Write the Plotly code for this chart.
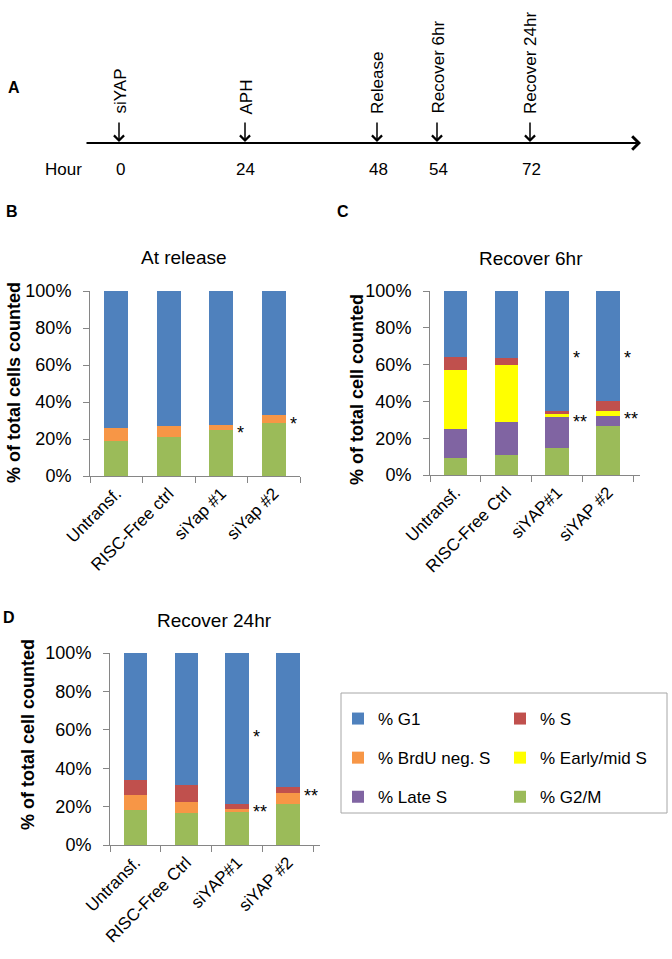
import plotly.graph_objects as go

W, H = 672, 959

# ---------------- data ----------------
cats_B = ["Untransf.", "RISC-Free ctrl", "siYap #1", "siYap #2"]
cats_C = ["Untransf.", "RISC-Free Ctrl", "siYAP#1", "siYAP #2"]
cats_D = ["Untransf.", "RISC-Free Ctrl", "siYAP#1", "siYAP #2"]

series_names = ["% G2/M", "% Late S", "% Early/mid S", "% BrdU neg. S", "% S", "% G1"]

B_g2m = [19, 21, 25, 28.5]
B_late = [0, 0, 0, 0]
B_early = [0, 0, 0, 0]
B_brdu = [7, 6, 2.5, 4.5]
B_s = [0, 0, 0, 0]
B_g1 = [74, 73, 72.5, 67]

C_g2m = [9.5, 11, 14.5, 26.5]
C_late = [15.5, 18, 17, 5.5]
C_early = [32, 31, 1.5, 3]
C_brdu = [0, 0, 0, 0]
C_s = [7, 3.5, 2, 5]
C_g1 = [36, 36.5, 65, 60]

D_g2m = [18, 16.5, 17, 21.5]
D_late = [0, 0, 0, 0]
D_early = [0, 0, 0, 0]
D_brdu = [8, 6, 2, 5.5]
D_s = [8, 9, 2.5, 3]
D_g1 = [66, 68.5, 78.5, 70]

timeline_events = ["siYAP", "APH", "Release", "Recover 6hr", "Recover 24hr"]
timeline_hours = ["0", "24", "48", "54", "72"]

# significance marks: (category index, y value, text)
sig_B = [(2, 26, "*"), (3, 31, "*")]
sig_C = [(2, 66.5, "*"), (3, 66.5, "*"), (2, 31.5, "**"), (3, 33, "**")]
sig_D = [(2, 59, "*"), (2, 20, "**"), (3, 28, "**")]

# ---------------- style ----------------
FONT = "Liberation Sans, Arial, sans-serif"
colors = {"% G2/M": "#9BBB59", "% Late S": "#8064A2", "% Early/mid S": "#FFFF00",
          "% BrdU neg. S": "#F79646", "% S": "#C0504D", "% G1": "#4F81BD"}
legend_of = {"% G1": "legend", "% BrdU neg. S": "legend", "% Late S": "legend",
             "% S": "legend2", "% Early/mid S": "legend2", "% G2/M": "legend2"}
legend_rank = {"% G1": 1, "% BrdU neg. S": 2, "% Late S": 3,
               "% S": 1, "% Early/mid S": 2, "% G2/M": 3}
AX = "#868686"


def px_x(v):
    return v / W


def px_y(v):
    return 1 - v / H


fig = go.Figure()

panels = [
    ("x", "y", cats_B, [B_g2m, B_late, B_early, B_brdu, B_s, B_g1], False),
    ("x2", "y2", cats_C, [C_g2m, C_late, C_early, C_brdu, C_s, C_g1], False),
    ("x3", "y3", cats_D, [D_g2m, D_late, D_early, D_brdu, D_s, D_g1], True),
]
for xa, ya, cats, data, show in panels:
    for name, vals in zip(series_names, data):
        fig.add_trace(go.Bar(
            x=cats, y=vals, name=name, xaxis=xa, yaxis=ya,
            marker=dict(color=colors[name], line=dict(width=0)),
            showlegend=show, legendgroup=name, legend=legend_of[name],
            legendrank=legend_rank[name],
        ))

xaxis_common = dict(type="category", showline=True, linecolor=AX, linewidth=1,
                    ticks="outside", tickson="boundaries", ticklen=6, tickcolor=AX,
                    tickangle=-45, tickfont=dict(family=FONT, size=17, color="black"),
                    showgrid=False, fixedrange=True, automargin=False)
yaxis_common = dict(range=[0, 100], dtick=20, ticksuffix="%", showline=True,
                    linecolor=AX, linewidth=1, ticks="outside", ticklen=6, tickcolor=AX,
                    ticklabelstandoff=8,
                    tickfont=dict(family=FONT, size=18, color="black"),
                    showgrid=False, zeroline=False, fixedrange=True, automargin=False)

fig.update_layout(
    width=W, height=H, margin=dict(l=0, r=0, t=0, b=0, autoexpand=False),
    paper_bgcolor="white", plot_bgcolor="white",
    barmode="stack", bargap=0.54,
    font=dict(family=FONT, color="black"),
    xaxis=dict(domain=[px_x(90), px_x(300)], anchor="y", **xaxis_common),
    yaxis=dict(domain=[px_y(476), px_y(291)], anchor="x", **yaxis_common),
    xaxis2=dict(domain=[px_x(430), px_x(640)], anchor="y2", **xaxis_common),
    yaxis2=dict(domain=[px_y(475), px_y(291)], anchor="x2", **yaxis_common),
    xaxis3=dict(domain=[px_x(110), px_x(320)], anchor="y3", **xaxis_common),
    yaxis3=dict(domain=[px_y(845), px_y(653)], anchor="x3", **yaxis_common),
    legend=dict(x=px_x(338), y=px_y(701), xanchor="left", yanchor="top",
                traceorder="grouped", tracegroupgap=14,
                font=dict(family=FONT, size=17), bgcolor="rgba(0,0,0,0)"),
    legend2=dict(x=px_x(500), y=px_y(701), xanchor="left", yanchor="top",
                 traceorder="grouped", tracegroupgap=14,
                 font=dict(family=FONT, size=17), bgcolor="rgba(0,0,0,0)"),
)

# legend frame
fig.add_shape(type="rect", xref="paper", yref="paper",
              x0=px_x(341), x1=px_x(667), y0=px_y(813), y1=px_y(693),
              line=dict(color="#A6A6A6", width=1))


def paper_text(txt, cx, cy, size, **kw):
    d = dict(text=txt, x=px_x(cx), y=px_y(cy), xref="paper", yref="paper",
             xanchor="center", yanchor="middle", showarrow=False,
             font=dict(family=FONT, size=size))
    d.update(kw)
    return d


ann = []
# panel titles
for txt, cx, cy in [("At release", 184, 257), ("Recover 6hr", 531, 258), ("Recover 24hr", 215, 620)]:
    ann.append(paper_text(txt, cx, cy, 19))
# y-axis titles
for txt, cx, cy in [("% of total cells counted", 14, 383),
                    ("% of total cell counted", 357, 390),
                    ("% of total cell counted", 28, 735)]:
    ann.append(paper_text("<b>" + txt + "</b>", cx, cy, 18, textangle=-90))
# panel letters
for txt, cx, cy in [("A", 14, 87), ("B", 12, 212), ("C", 343, 212), ("D", 9, 617)]:
    ann.append(paper_text("<b>" + txt + "</b>", cx, cy, 16))

# significance marks
for xa, ya, cats, sigs in [("x", "y", cats_B, sig_B), ("x2", "y2", cats_C, sig_C), ("x3", "y3", cats_D, sig_D)]:
    for ci, yv, txt in sigs:
        ann.append(dict(text=txt, x=cats[ci], y=yv, xref=xa, yref=ya, xanchor="left",
                        yanchor="middle", xshift=14, yshift=-5, showarrow=False,
                        font=dict(family=FONT, size=18)))

# ---------------- panel A: timeline ----------------
line_y = 143
event_px = [119, 245, 377, 437, 530]
ann.append(dict(text="", x=px_x(641), y=px_y(line_y), xref="paper", yref="paper",
                showarrow=True, ax=-(641 - 85), ay=0, arrowhead=4, arrowsize=1.3,
                arrowwidth=2, arrowcolor="black", standoff=0))
for ev, hr, ex in zip(timeline_events, timeline_hours, event_px):
    ann.append(dict(text="", x=px_x(ex), y=px_y(line_y - 1), xref="paper", yref="paper",
                    showarrow=True, ax=0, ay=-21, arrowhead=4, arrowsize=1.3,
                    arrowwidth=1.5, arrowcolor="black", standoff=0))
    ann.append(paper_text(ev, ex + 1, 116, 17, yanchor="bottom", textangle=-90))
    ann.append(paper_text(hr, ex + 1, 169, 17))
ann.append(paper_text("Hour", 63, 169, 17))

fig.update_layout(annotations=ann)

fig.write_html("out.html", config={"displayModeBar": False},
               post_script="document.body.style.margin='0';document.body.style.overflow='hidden';")
